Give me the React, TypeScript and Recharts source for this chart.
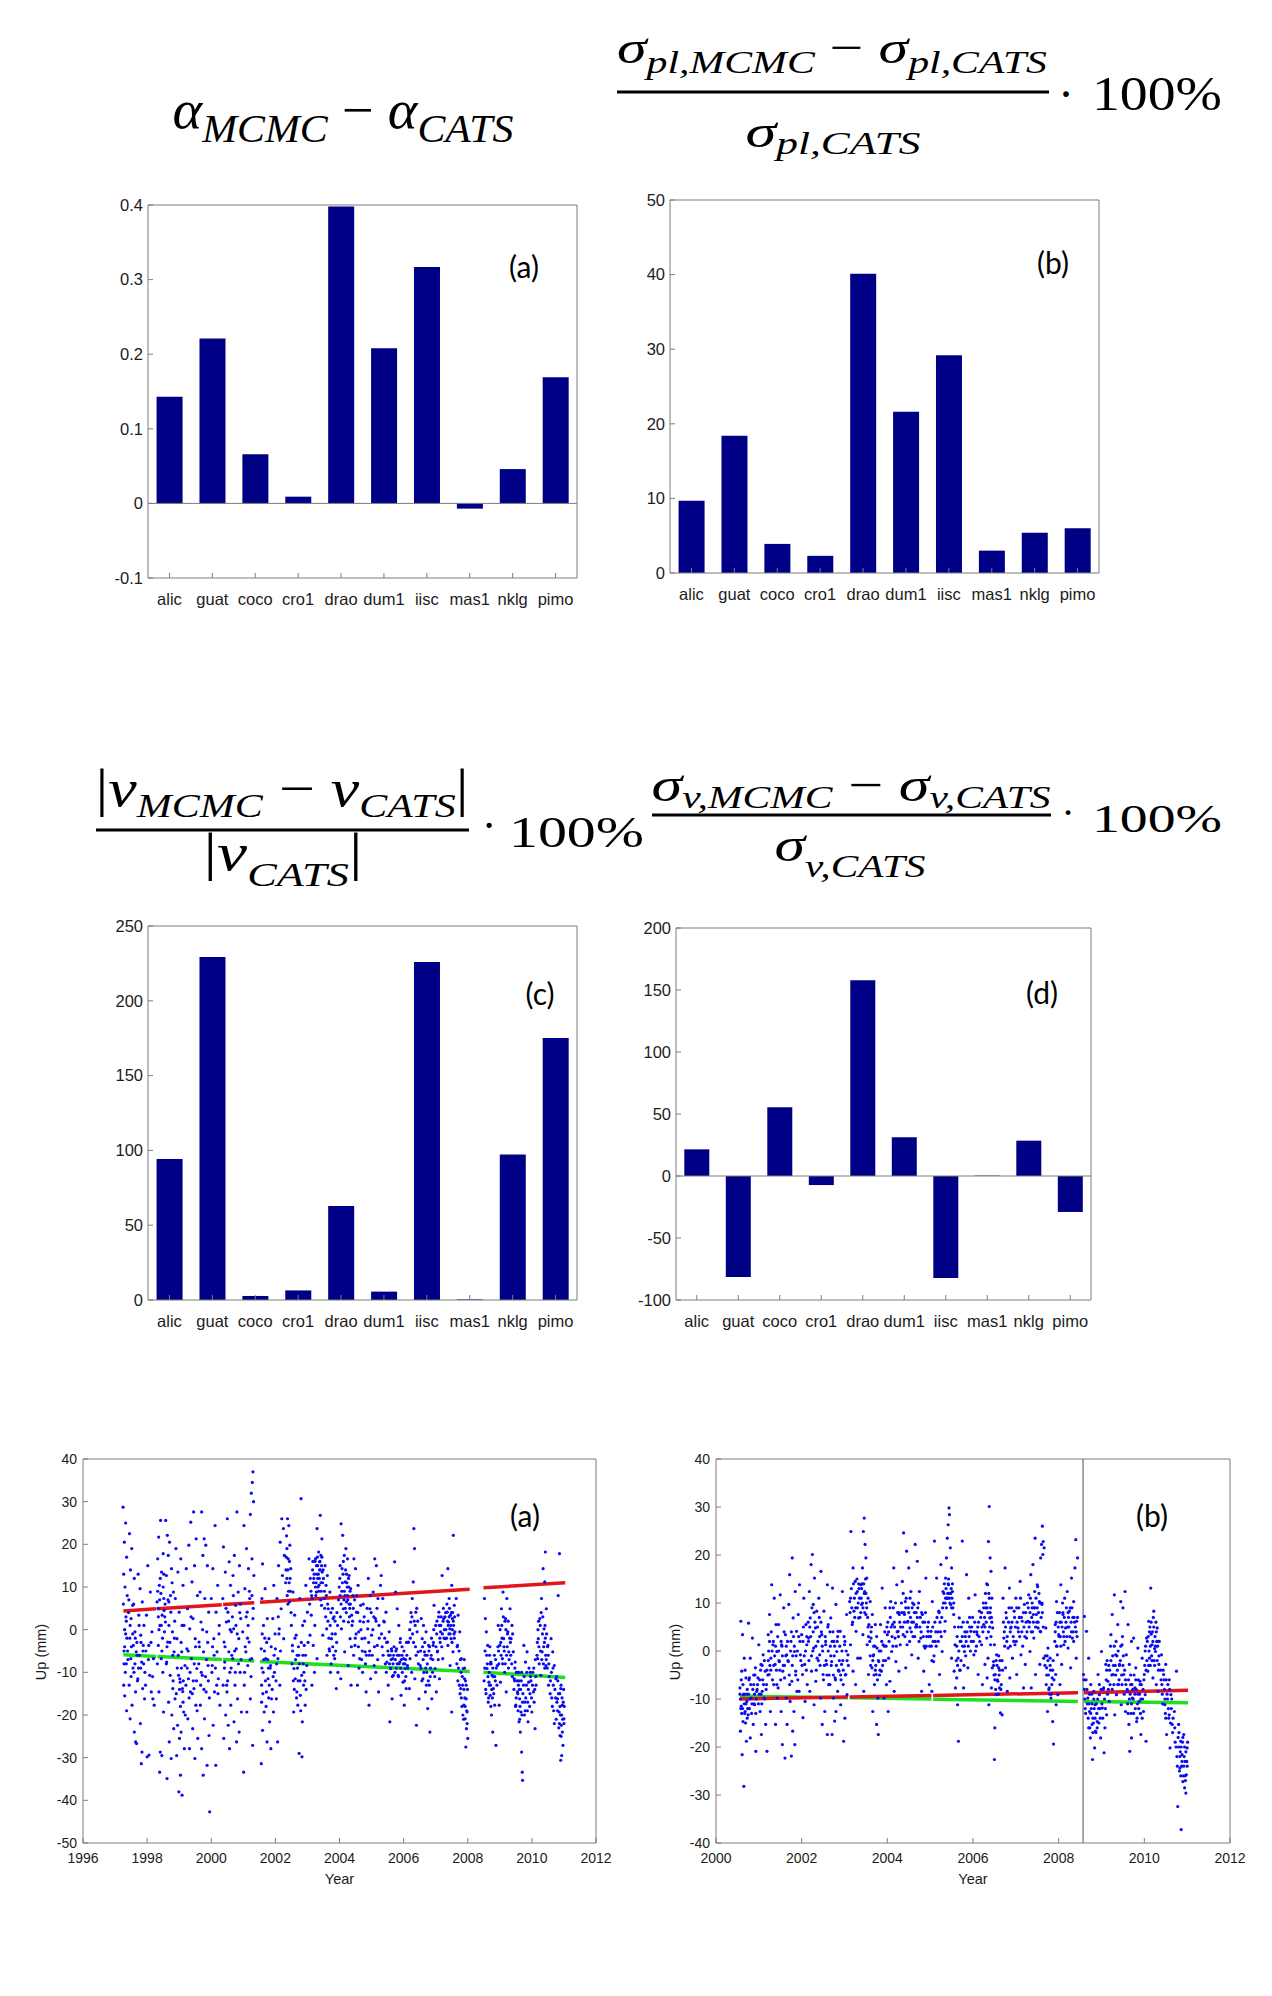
import React from 'react';
import { ComposedChart, Bar, Line, XAxis, YAxis, ReferenceLine, ScatterChart, Scatter } from 'recharts';

// --- bar panels -----------------------------------------------------------
const sites = ['alic', 'guat', 'coco', 'cro1', 'drao', 'dum1', 'iisc', 'mas1', 'nklg', 'pimo'];
const alphaDiff = [0.143, 0.221, 0.066, 0.009, 0.398, 0.208, 0.317, -0.007, 0.046, 0.169];
const sigmaPlDiff = [9.7, 18.4, 3.9, 2.3, 40.1, 21.6, 29.2, 3.0, 5.4, 6.0];
const velDiff = [94.2, 229.3, 2.7, 6.4, 62.9, 5.6, 226.0, 0.4, 97.3, 175.1];
const sigmaVelDiff = [21.5, -81.5, 55.4, -7.3, 157.8, 31.2, -82.3, 0.3, 28.5, -29.0];

const ticksAlpha = [-0.1, 0, 0.1, 0.2, 0.3, 0.4];
const ticksSigmaPl = [0, 10, 20, 30, 40, 50];
const ticksVel = [0, 50, 100, 150, 200, 250];
const ticksSigmaVel = [-100, -50, 0, 50, 100, 150, 200];

// --- GPS up component time series (year, mm) -------------------------------
const upA_1997 = [
  [1997.25, 28.7], [1997.33, 25], [1997.29, 20.5], [1997.36, 17], [1997.27, 13], [1997.31, 10], [1997.38, 8], [1997.26, 6],
  [1997.34, 3], [1997.3, 0], [1997.37, -2], [1997.28, -5], [1997.35, -8], [1997.32, -10], [1997.27, -13], [1997.3, -15.5],
  [1997.36, -19], [1997.45, 22.5], [1997.52, 19], [1997.48, 14], [1997.6, 12], [1997.43, 7], [1997.55, 5.7], [1997.5, 2.6],
  [1997.62, -0.5], [1997.46, -2], [1997.57, -3.7], [1997.66, -5.2], [1997.49, -6.8], [1997.59, -10], [1997.44, -13],
  [1997.64, -14.6], [1997.53, -17.7], [1997.47, -20.9], [1997.6, -24], [1997.64, -26.3], [1997.67, -26.7], [1997.72, 13],
  [1997.78, 9.6], [1997.85, 6.5], [1997.74, 3.4], [1997.9, 1], [1997.8, -1.3], [1997.88, -3.7], [1997.76, -6], [1997.83, -7.6],
  [1997.93, -10], [1997.71, -11.5], [1997.86, -13.8], [1997.92, -16.2], [1997.79, -22], [1997.84, -28.7], [1997.82, -31.4],
  [1998.02, 15], [1998.1, 8.8], [1997.98, 3.4], [1998.15, -0.5], [1998.05, -3.7], [1998.2, -6.8], [1998.08, -10.7],
  [1998.13, -14.6], [1998.18, -16.2], [1998.22, -17.7], [1998.0, -29.8], [1998.06, -29.4],
  [1998.42, 25.6], [1998.36, 21.7], [1998.5, 17.8], [1998.33, 16.6], [1998.45, 13.5], [1998.38, 10.4], [1998.52, 7.3],
  [1998.31, 6.5], [1998.47, 3.4], [1998.4, 1], [1998.54, -0.5], [1998.35, -3.7], [1998.44, -6.8], [1998.49, -10],
  [1998.37, -14.6], [1998.51, -19.3], [1998.41, -28.7], [1998.46, -29.5], [1998.39, -33.4], [1998.34, 5], [1998.43, 8.5],
  [1998.48, -2], [1998.53, 4.5], [1998.32, -8],
  [1998.58, 25.6], [1998.63, 22.1], [1998.7, 20.5], [1998.66, 17.4], [1998.76, 14.3], [1998.6, 12.7], [1998.82, 8.8],
  [1998.68, 6.5], [1998.74, 4.1], [1998.57, 1.8], [1998.79, -0.5], [1998.64, -2.9], [1998.84, -5.2], [1998.61, -7.6],
  [1998.72, -10.7], [1998.8, -13.8], [1998.67, -17], [1998.77, -20], [1998.83, -23.2], [1998.69, -26.3], [1998.75, -30.2],
  [1998.62, -34.9],
];

const upA_1999 = [
  [1998.9, 19], [1999.05, 16.6], [1998.96, 13.5], [1999.12, 10.4], [1998.88, 7.3], [1999.0, 4.1], [1999.15, 1],
  [1998.93, -2.1], [1999.08, -5.2], [1999.18, -8.4], [1998.98, -10.7], [1999.03, -12.3], [1999.1, -13.8], [1998.87, -16.2],
  [1999.14, -19.3], [1998.95, -22.4], [1999.06, -24], [1999.01, -25.5], [1999.16, -27.9], [1998.92, -29.5], [1999.04, -34.1],
  [1999.09, -38.8], [1998.99, -38], [1999.02, -11.5], [1999.11, -14.5], [1999.07, -9],
  [1999.45, 27.6], [1999.36, 25.2], [1999.53, 21.3], [1999.3, 19.8], [1999.48, 15], [1999.22, 14.3], [1999.4, 11.2],
  [1999.57, 8], [1999.26, 4.9], [1999.43, 2.6], [1999.33, 0.2], [1999.5, -2.1], [1999.24, -4.5], [1999.38, -6.8],
  [1999.55, -9.1], [1999.29, -11.5], [1999.46, -13.8], [1999.35, -14.6], [1999.52, -17.7], [1999.27, -20.9], [1999.42, -23.2],
  [1999.58, -25.5], [1999.32, -27.9], [1999.49, -30.2],
  [1999.7, 27.6], [1999.78, 21.3], [1999.83, 19.8], [1999.74, 17.4], [1999.88, 15], [1999.65, 8.8], [1999.8, 7.3],
  [1999.92, 4.1], [1999.68, 1.8], [1999.86, -0.5], [1999.62, -2.9], [1999.76, -5.2], [1999.9, -8.4], [1999.72, -10.7],
  [1999.84, -14.6], [1999.66, -17.7], [1999.79, -20.9], [1999.93, -24.8], [1999.7, -27.9], [1999.87, -31.8], [1999.75, -34.1],
  [1999.95, -42.7],
  [2000.12, 24.4], [2000.05, 14.3], [2000.2, 10.4], [2000.0, 7.3], [2000.15, 4.1], [2000.25, 1], [2000.08, -2.1],
  [2000.18, -5.2], [2000.03, -8.4], [2000.22, -11.5], [2000.1, -14.6], [2000.27, -17.7], [2000.06, -22.4], [2000.14, -31.8],
];

const upA_2000 = [
  [2000.5, 26], [2000.38, 19.4], [2000.56, 15.9], [2000.44, 13.5], [2000.6, 10.4], [2000.36, 7.3], [2000.52, 4.1],
  [2000.47, 1.8], [2000.63, -0.5], [2000.4, -2.9], [2000.55, -5.2], [2000.42, -7.6], [2000.58, -10], [2000.37, -13],
  [2000.49, -14.6], [2000.61, -17.7], [2000.45, -20], [2000.53, -22.4], [2000.39, -25.5], [2000.57, -27.9],
  [2000.8, 27.6], [2000.72, 17.4], [2000.88, 15], [2000.68, 12.7], [2000.84, 8.8], [2000.76, 5.7], [2000.92, 2.6],
  [2000.7, 0.2], [2000.86, -2.1], [2000.78, -4.5], [2000.67, -6.8], [2000.9, -10], [2000.74, -13], [2000.82, -16.2],
  [2000.94, -19.3], [2000.71, -21.6], [2000.87, -24], [2000.79, -26.3],
  [2001.3, 37], [2001.28, 34.5], [2001.25, 32], [2001.32, 30], [2001.22, 27], [2001.02, 24.4], [2001.1, 19],
  [2001.27, 16.6], [2001.16, 14.3], [2001.33, 12.7], [2001.05, 9.6], [2001.2, 7.3], [2001.12, 4.1], [2001.3, 2.6],
  [2000.98, -0.5], [2001.18, -2.9], [2001.08, -5.2], [2001.26, -6.8], [2001.14, -8.4], [2001.03, -13], [2001.22, -16.2],
  [2001.11, -19.3], [2001.29, -27.1], [2001.01, -33.4],
];

const upA_2001 = [
  [2001.6, 15.4], [2001.68, 9.6], [2001.58, 7.3], [2001.75, 2.6], [2001.63, 1], [2001.8, -2.1], [2001.56, -4.5],
  [2001.7, -6.8], [2001.85, -8.4], [2001.62, -10], [2001.77, -11.5], [2001.57, -13], [2001.72, -14.6], [2001.88, -16.2],
  [2001.65, -19.3], [2001.82, -21.6], [2001.6, -23.6], [2001.74, -26.3], [2001.86, -27.9], [2001.56, -31.4],
  [2001.66, -5], [2001.78, -9], [2001.59, -1],
  [2002.2, 26], [2002.25, 23.7], [2002.15, 20.5], [2002.28, 17.4], [2002.1, 15], [2002.22, 12.7], [2001.95, 10.4],
  [2002.05, 7.3], [2002.18, 4.9], [2001.92, 2.6], [2002.12, 0.2], [2002.26, -2.1], [2002.0, -4.5], [2002.08, -6.8],
  [2001.97, -10], [2002.14, -13], [2002.03, -16.2], [2001.94, -19.3], [2002.07, -26.3],
  [2002.38, 26], [2002.42, 24.4], [2002.35, 22], [2002.45, 19.8], [2002.4, 16.6], [2002.48, 14.3], [2002.36, 12],
  [2002.55, 8.8], [2002.44, 6.5], [2002.6, 3.4], [2002.5, 1], [2002.65, -1.3], [2002.53, -3.7], [2002.68, -6],
  [2002.58, -9.1], [2002.62, -11.5], [2002.67, -14.6], [2002.7, -17.7], [2002.57, -19.3], [2002.39, 14], [2002.43, 11],
  [2002.41, 9],
  [2002.8, 30.7], [2003.05, 16.6], [2002.95, 10.4], [2002.76, 7.3], [2003.0, 4.1], [2002.85, 1], [2003.08, -1.3],
  [2002.9, -3.7], [2002.73, -6], [2002.98, -8.4], [2002.82, -10.7], [2002.88, -13], [2002.78, -15.4], [2002.93, -17.7],
  [2002.84, -21.6], [2002.74, -29], [2002.83, -29.8], [2002.79, -19], [2002.87, -8], [2002.92, -12],
];

const upA_2003 = [
  [2003.4, 26.8], [2003.3, 23.7], [2003.45, 21.3], [2003.35, 18.2], [2003.42, 17.4], [2003.25, 16.6], [2003.38, 15.9],
  [2003.32, 15], [2003.46, 13.5], [2003.2, 12], [2003.36, 10.4], [2003.28, 8.8], [2003.15, 7.3], [2003.44, 5.7],
  [2003.12, 3.4], [2003.23, 1], [2003.48, -1.3], [2003.18, -3.7], [2003.3, -6.8], [2003.22, -10], [2003.14, -13],
  [2003.34, 13], [2003.4, 14], [2003.27, 11], [2003.43, 9],
  [2003.55, 15], [2003.62, 12.7], [2003.58, 10.4], [2003.7, 8.8], [2003.52, 7.3], [2003.65, 4.9], [2003.8, 2.6],
  [2003.6, 0.2], [2003.75, -2.1], [2003.68, -4.5], [2003.85, -6.8], [2003.72, -10], [2003.9, -13.8], [2003.78, 5],
  [2003.95, -10], [2003.88, -5],
  [2004.05, 24.8], [2004.1, 22.1], [2004.2, 19], [2004.15, 17.4], [2004.25, 16.6], [2004.08, 14.3], [2004.3, 12.7],
  [2004.18, 11.2], [2004.35, 9.6], [2004.02, 8], [2004.22, 6.5], [2004.12, 4.9], [2004.38, 3.4], [2004.28, 1.8],
  [2004.06, 0.2], [2004.33, -2.1], [2004.16, -5.2], [2004.27, -8.4], [2004.04, -11.5], [2004.36, -13], [2004.24, 10],
  [2004.14, 7], [2004.32, 5],
  [2004.45, 16.6], [2004.5, 14.3], [2004.58, 10.4], [2004.42, 8], [2004.66, 5.7], [2004.53, 4.1], [2004.75, 1.8],
  [2004.6, -0.5], [2004.7, -2.1], [2004.48, -3.7], [2004.8, -5.2], [2004.63, -6.8], [2004.72, -10], [2004.56, -13],
  [2004.83, -14.6],
];

const upA_2005 = [
  [2005.1, 16.6], [2005.15, 15], [2004.9, 12], [2005.05, 8.8], [2005.2, 7.3], [2004.95, 4.9], [2005.12, 2.6],
  [2004.88, 0.2], [2005.0, -1.3], [2005.18, -3.7], [2004.93, -6], [2005.08, -8.4], [2004.97, -11.5], [2005.22, -14.6],
  [2004.92, -17.7],
  [2005.3, 12.7], [2005.28, 10.4], [2005.35, 7.3], [2005.45, 4.1], [2005.4, 1.8], [2005.55, -0.5], [2005.5, -2.9],
  [2005.62, -4.5], [2005.58, -6], [2005.66, -6.8], [2005.48, -7.6], [2005.6, -9.1], [2005.68, -10.7], [2005.52, -13],
  [2005.64, -16.2], [2005.57, -21.6],
  [2005.72, 15.9], [2005.75, 8.8], [2005.8, 4.9], [2005.85, 1], [2005.9, -2.1], [2005.78, -4.5], [2005.95, -6],
  [2006.0, -6.8], [2005.88, -7.6], [2006.05, -9.1], [2005.83, -10.7], [2005.98, -12.3], [2006.08, -13.8], [2005.92, -15.4],
  [2006.02, -17.7],
  [2006.32, 23.7], [2006.34, 19], [2006.3, 11.2], [2006.27, 7.3], [2006.38, 4.1], [2006.22, 1.8], [2006.42, -0.5],
  [2006.15, -2.9], [2006.45, -5.2], [2006.2, -6.8], [2006.12, -8.4], [2006.25, -10], [2006.35, -11.5], [2006.18, -13.8],
  [2006.48, -16.2], [2006.4, -22.4],
  [2006.55, 2.6], [2006.62, 1], [2006.7, -0.5], [2006.58, -2.1], [2006.78, -3.7], [2006.65, -5.2], [2006.85, -6.8],
  [2006.52, -8.4], [2006.72, -10], [2006.6, -11.5], [2006.8, -13], [2006.68, -14.6], [2006.88, -16.2], [2006.75, -18.5],
  [2006.82, -24],
];

const upA_2007 = [
  [2007.2, 12.7], [2006.95, 5.7], [2007.1, 4.1], [2007.25, 2.6], [2007.0, 1], [2007.15, -0.5], [2007.3, -2.1],
  [2006.92, -3.7], [2007.05, -5.2], [2007.22, -6.8], [2006.98, -9.1], [2007.12, -11.5], [2007.02, -14.6],
  [2007.55, 22.1], [2007.38, 14.3], [2007.5, 10.4], [2007.42, 7.3], [2007.58, 5.7], [2007.36, 4.1], [2007.46, 3.4],
  [2007.52, 2.6], [2007.4, 1.8], [2007.56, 1], [2007.44, 0.2], [2007.6, -0.5], [2007.48, -2.1], [2007.38, -3.7],
  [2007.54, -5.2], [2007.45, -8.4], [2007.5, -19.3],
  [2007.64, 7.3], [2007.7, 3.4], [2007.75, -0.5], [2007.68, -3.7], [2007.8, -6.8], [2007.86, -9.1], [2007.9, -11.5],
  [2007.78, -13.8], [2007.95, -16.2], [2007.88, -17.7], [2007.98, -19.3], [2007.92, -20.9], [2007.96, -23.2],
  [2008.0, -25.5], [2007.94, -27.5],
];

const upA_2008 = [
  [2008.52, 7.3], [2008.55, 2.6], [2008.58, -0.5], [2008.62, -3.7], [2008.68, -6], [2008.72, -7.6], [2008.6, -9.1],
  [2008.76, -10.7], [2008.66, -12.3], [2008.8, -13.8], [2008.7, -15.4], [2008.84, -17.7], [2008.74, -20], [2008.78, -24],
  [2008.88, -27.1],
  [2009.1, 8.8], [2009.22, 7.3], [2009.05, 4.9], [2009.18, 2.6], [2008.95, 1], [2009.25, -0.5], [2009.12, -2.1],
  [2009.0, -3.7], [2009.28, -5.2], [2009.08, -6.8], [2008.92, -8.4], [2009.15, -10], [2009.02, -12.3], [2009.2, -14.6],
  [2008.98, -17.7],
  [2009.32, 4.9], [2009.38, 1], [2009.35, -2.1], [2009.42, -5.2], [2009.48, -7.6], [2009.52, -10], [2009.45, -11.5],
  [2009.58, -13], [2009.55, -14.6], [2009.62, -16.2], [2009.5, -17.7], [2009.66, -19.3], [2009.6, -21.6], [2009.64, -24],
  [2009.68, -28.7], [2009.7, -33.4], [2009.71, -35.3],
  [2009.75, -3.7], [2009.85, -5.2], [2009.8, -7.6], [2009.95, -10], [2009.9, -12.3], [2010.05, -14.6], [2009.78, -17],
  [2010.0, -19.3], [2009.88, -21.6], [2010.1, -23.2],
  [2010.42, 18.2], [2010.35, 14.3], [2010.4, 11.2], [2010.3, 7.3], [2010.45, 4.9], [2010.25, 2.6], [2010.38, 0.2],
  [2010.2, -2.1], [2010.5, -3.7], [2010.32, -5.2], [2010.18, -6.8], [2010.44, -8.4], [2010.28, -10.7], [2010.52, -13],
  [2010.86, 17.8], [2010.82, 8], [2010.6, -2.1], [2010.65, -5.2], [2010.7, -8.4], [2010.75, -11.5], [2010.9, -13.8],
  [2010.8, -16.2], [2010.95, -17.7], [2010.85, -19.3], [2011.0, -20.9], [2010.92, -22.4], [2010.88, -24.8],
  [2010.97, -27.1], [2010.93, -29.5], [2010.9, -30.6],
];

// denser cores of the station A clouds
const upA_core = [
  [1997.3, -4], [1997.35, 2], [1997.4, -7], [1997.42, 4], [1997.5, -11], [1997.55, -1], [1997.58, 6], [1997.62, -8],
  [1997.68, -3], [1997.7, -12], [1997.75, 1], [1997.8, -9], [1997.87, -5], [1997.95, -13], [1998.04, -7], [1998.12, -3],
  [1998.17, -11], [1998.33, 9], [1998.37, 0], [1998.41, 12], [1998.46, -5], [1998.5, 10], [1998.55, 3], [1998.6, -8],
  [1998.65, 7], [1998.71, -3], [1998.78, 11], [1998.81, -12], [1998.86, 2], [1998.91, -15], [1998.97, -6], [1999.04, -18],
  [1999.09, 1], [1999.13, -12], [1999.19, -20], [1999.25, -9], [1999.31, -16], [1999.37, 3], [1999.44, -12], [1999.51, -4],
  [1999.56, -19], [1999.61, -8], [1999.67, -13], [1999.73, 0], [1999.82, -11], [1999.89, -3], [1999.94, -16], [2000.02, -10],
  [2000.09, -6], [2000.17, -13], [2000.24, -1], [2000.41, -9], [2000.46, 5], [2000.51, -12], [2000.59, 0], [2000.64, -6],
  [2000.69, 8], [2000.75, -10], [2000.81, -1], [2000.89, 4], [2000.93, -7], [2001.04, -10], [2001.09, 3], [2001.13, -2],
  [2001.19, 9], [2001.24, -11], [2001.31, 5], [2001.58, -9], [2001.61, -15], [2001.67, -2], [2001.71, -18], [2001.76, -7],
  [2001.81, -13], [2001.87, -4], [2001.93, -11], [2001.99, -1], [2002.04, -8], [2002.09, 3], [2002.16, -5], [2002.32, 11],
  [2002.34, 17], [2002.37, 8], [2002.46, 12], [2002.49, 4], [2002.52, -8], [2002.56, -12], [2002.61, -2], [2002.66, -16],
  [2002.69, -9], [2002.72, -4], [2002.77, -12], [2002.86, -6], [2002.91, 2], [2002.96, -14], [2003.02, -3], [2003.07, 6],
  [2003.11, 9], [2003.16, 14], [2003.19, 11], [2003.24, 16], [2003.26, 8], [2003.29, 13], [2003.31, 17], [2003.33, 10],
  [2003.37, 12], [2003.39, 16], [2003.41, 7], [2003.44, 15], [2003.47, 11], [2003.49, 14], [2003.53, 9], [2003.57, 3],
  [2003.61, -6], [2003.63, 6], [2003.67, -2], [2003.71, 1], [2003.74, -8], [2003.79, -4], [2003.83, 3], [2003.87, -1],
  [2003.92, 4], [2003.97, 7], [2004.01, 12], [2004.03, 3], [2004.07, 9], [2004.11, 13], [2004.13, 2], [2004.17, 8],
  [2004.19, 14], [2004.21, 4], [2004.23, 11], [2004.26, 7], [2004.29, 10], [2004.31, 3], [2004.34, 6], [2004.37, -4],
  [2004.41, 2], [2004.44, -6], [2004.47, 7], [2004.52, -1], [2004.57, 4], [2004.61, -9], [2004.67, 0], [2004.71, -5],
  [2004.77, 3], [2004.81, -8], [2004.86, 5], [2004.91, -3], [2004.96, 8], [2005.02, -6], [2005.07, 3], [2005.13, -10],
  [2005.17, 5], [2005.24, -2], [2005.33, -4], [2005.38, 2], [2005.43, -8], [2005.47, -3], [2005.53, -6], [2005.59, -9],
  [2005.63, -5], [2005.67, -8], [2005.7, -4], [2005.74, -7], [2005.77, -9], [2005.81, -6], [2005.86, -8], [2005.89, -3],
  [2005.93, -7], [2005.96, -10], [2006.01, -5], [2006.04, -8], [2006.07, -11], [2006.1, -6], [2006.14, -3], [2006.19, 0],
  [2006.23, 4], [2006.28, -1], [2006.33, 2], [2006.37, -4], [2006.41, 5], [2006.46, -8], [2006.53, -5], [2006.57, -12],
  [2006.61, -7], [2006.66, -3], [2006.69, -9], [2006.73, -6], [2006.77, -12], [2006.81, -4], [2006.84, -9], [2006.87, -2],
  [2006.91, -7], [2006.94, 0], [2006.97, -11], [2007.01, -4], [2007.04, 2], [2007.08, -7], [2007.11, 1], [2007.14, -3],
  [2007.17, 3], [2007.21, -1], [2007.24, 5], [2007.27, 0], [2007.31, 4], [2007.34, -2], [2007.37, 2], [2007.41, -1],
  [2007.43, 5], [2007.47, 1], [2007.51, -3], [2007.53, 4], [2007.57, -1], [2007.59, 3], [2007.66, -8], [2007.69, -12],
  [2007.73, -5], [2007.76, -15], [2007.79, -10], [2007.82, -18], [2007.84, -13], [2007.87, -21], [2007.89, -7],
  [2007.91, -16], [2007.93, -12], [2007.97, -19], [2007.99, -14], [2008.51, -12], [2008.54, -5], [2008.57, -15],
  [2008.61, -8], [2008.64, -17], [2008.67, -10], [2008.69, -4], [2008.71, -13], [2008.73, -8], [2008.77, -16],
  [2008.79, -11], [2008.83, -6], [2008.86, -12], [2008.89, -9], [2008.94, -4], [2008.97, -8], [2009.01, 0], [2009.04, -6],
  [2009.07, -2], [2009.11, 3], [2009.14, -5], [2009.17, -8], [2009.19, 0], [2009.23, -4], [2009.26, 2], [2009.29, -7],
  [2009.33, -3], [2009.37, -8], [2009.4, -1], [2009.44, -14], [2009.47, -9], [2009.51, -16], [2009.54, -12], [2009.57, -19],
  [2009.59, -10], [2009.61, -14], [2009.63, -18], [2009.67, -12], [2009.69, -20], [2009.72, -15], [2009.76, -11],
  [2009.79, -19], [2009.83, -13], [2009.87, -17], [2009.91, -9], [2009.94, -15], [2009.97, -12], [2010.03, -10],
  [2010.07, -17], [2010.11, -7], [2010.13, -13], [2010.17, -3], [2010.21, 2], [2010.23, -8], [2010.27, -5], [2010.29, 4],
  [2010.33, -1], [2010.36, -8], [2010.39, -3], [2010.41, 1], [2010.43, -6], [2010.46, -1], [2010.48, -9], [2010.51, -6],
  [2010.54, -11], [2010.58, -12], [2010.62, -16], [2010.66, -9], [2010.68, -19], [2010.72, -14], [2010.76, -21],
  [2010.78, -17], [2010.81, -12], [2010.84, -23], [2010.87, -15], [2010.89, -20], [2010.91, -25], [2010.94, -16],
  [2010.96, -21], [2010.99, -14], [2011.01, -18],
];

const upA_core2 = [
  [1997.28, -8], [1997.33, -1], [1997.39, -5], [1997.47, 1], [1997.51, -4], [1997.56, -9], [1997.63, -2], [1997.69, -6],
  [1997.73, -9], [1997.81, -3], [1997.89, -8], [1997.96, -5], [1998.35, 3], [1998.39, 7], [1998.44, 1], [1998.52, 13],
  [1998.56, 6], [1998.62, -4], [1998.68, 1], [1998.73, 8], [1998.8, -6], [1998.85, -2], [1998.94, -9], [1999.01, -14],
  [1999.06, -3], [1999.12, -17], [1999.21, -13], [1999.28, -5], [1999.34, -10], [1999.41, -15], [1999.47, -8],
  [1999.54, -12], [1999.63, -4], [1999.69, -10], [1999.77, -14], [1999.85, -7], [1999.91, -12], [2000.04, -4],
  [2000.13, -9], [2000.21, -15], [2000.43, -4], [2000.48, -13], [2000.54, 2], [2000.62, -9], [2000.66, 3], [2000.73, -5],
  [2000.77, 1], [2000.85, -8], [2000.91, 6], [2001.06, -4], [2001.15, 1], [2001.21, -7], [2001.27, 8], [2001.57, -17],
  [2001.64, -7], [2001.69, -12], [2001.73, -3], [2001.79, -16], [2001.84, -9], [2001.9, -14], [2001.96, -6], [2002.02, -12],
  [2002.11, -1], [2002.33, 14], [2002.36, 19], [2002.39, 6], [2002.44, 16], [2002.47, 9], [2002.54, -5], [2002.59, -14],
  [2002.63, -7], [2002.71, -12], [2002.75, -8], [2002.81, -3], [2002.89, -10], [2002.94, -6], [2003.09, 12], [2003.13, 8],
  [2003.17, 16], [2003.21, 13], [2003.25, 10], [2003.28, 15], [2003.32, 12], [2003.35, 9], [2003.38, 14], [2003.42, 11],
  [2003.45, 17], [2003.5, 12], [2003.54, 5], [2003.59, 8], [2003.64, 2], [2003.69, -5], [2003.73, 4], [2003.77, -1],
  [2003.82, -6], [2003.86, 2], [2003.91, -3], [2003.94, 1], [2003.99, 10], [2004.02, 15], [2004.05, 6], [2004.09, 11],
  [2004.12, 16], [2004.15, 9], [2004.18, 5], [2004.22, 13], [2004.25, 8], [2004.28, 12], [2004.3, 6], [2004.33, 9],
  [2004.39, 1], [2004.43, 5], [2004.49, -2], [2004.54, 8], [2004.59, -4], [2004.64, 2], [2004.69, -7], [2004.74, 6],
  [2004.79, -2], [2004.84, -6], [2004.89, 2], [2004.94, -5], [2004.99, 4], [2005.04, 0], [2005.09, -4], [2005.14, 2],
  [2005.19, -7], [2005.23, 1], [2005.31, -1], [2005.36, -6], [2005.41, -2], [2005.46, -10], [2005.51, -5], [2005.56, -8],
  [2005.61, -7], [2005.65, -11], [2005.69, -6], [2005.73, -10], [2005.76, -5], [2005.8, -8], [2005.84, -11], [2005.87, -6],
  [2005.91, -9], [2005.95, -4], [2005.99, -8], [2006.03, -12], [2006.06, -7], [2006.09, -3], [2006.13, -9], [2006.21, -2],
  [2006.26, 3], [2006.31, -3], [2006.36, 1], [2006.39, -6], [2006.44, 2], [2006.54, -9], [2006.59, -4], [2006.63, -10],
  [2006.67, -6], [2006.71, -13], [2006.74, -8], [2006.79, -5], [2006.83, -11], [2006.86, -6], [2006.9, -10], [2006.93, -3],
  [2007.03, -1], [2007.06, -5], [2007.09, 3], [2007.13, -2], [2007.16, 1], [2007.19, -4], [2007.23, 2], [2007.26, -2],
  [2007.29, 3], [2007.32, 0], [2007.35, 6], [2007.39, 1], [2007.42, 3], [2007.45, -1], [2007.49, 4], [2007.52, 0],
  [2007.55, 2], [2007.58, -2], [2007.67, -4], [2007.71, -9], [2007.74, -13], [2007.77, -7], [2007.8, -16], [2007.83, -11],
  [2007.85, -20], [2007.88, -14], [2007.9, -9], [2007.92, -18], [2007.95, -13], [2007.98, -22], [2008.53, -9],
  [2008.56, -14], [2008.59, -6], [2008.63, -11], [2008.65, -16], [2008.68, -13], [2008.7, -8], [2008.72, -18],
  [2008.75, -14], [2008.78, -9], [2008.81, -15], [2008.84, -11], [2008.87, -7], [2008.91, -13], [2008.96, -5], [2009.03, -3],
  [2009.06, 1], [2009.09, -8], [2009.13, -4], [2009.16, 2], [2009.21, -6], [2009.24, -1], [2009.27, -9], [2009.31, -2],
  [2009.34, -6], [2009.39, -11], [2009.46, -12], [2009.49, -18], [2009.53, -10], [2009.56, -15], [2009.6, -12],
  [2009.62, -21], [2009.65, -14], [2009.68, -10], [2009.71, -17], [2009.74, -13], [2009.77, -20], [2009.81, -16],
  [2009.84, -10], [2009.86, -19], [2009.89, -14], [2009.93, -18], [2009.96, -11], [2009.99, -16], [2010.02, -13],
  [2010.06, -9], [2010.09, -14], [2010.12, -11], [2010.16, -6], [2010.19, 0], [2010.22, -4], [2010.26, 1], [2010.31, -7],
  [2010.34, 3], [2010.37, -4], [2010.4, -9], [2010.42, -2], [2010.45, -7], [2010.49, -4], [2010.53, -8], [2010.57, -15],
  [2010.61, -10], [2010.64, -18], [2010.67, -13], [2010.7, -22], [2010.74, -16], [2010.77, -11], [2010.8, -19],
  [2010.83, -15], [2010.86, -22], [2010.88, -18], [2010.91, -13], [2010.93, -20], [2010.95, -24], [2010.98, -17],
  [2011.0, -22],
];

const upB_2000 = [
  [2000.58, 6.2], [2000.62, 3.4], [2000.66, -1.5], [2000.6, -4.2], [2000.7, -5.6], [2000.56, -7.7], [2000.64, -9.1],
  [2000.72, -10.5], [2000.59, -11.5], [2000.68, -12.6], [2000.63, -14.7], [2000.57, -16.7], [2000.71, -18.8],
  [2000.61, -21.6], [2000.65, -28.2], [2000.67, -13], [2000.58, -12], [2000.73, -8],
  [2000.76, 5.8], [2000.85, 2.7], [2000.8, -1.5], [2000.92, -3.5], [2000.78, -5.6], [2000.88, -7], [2000.95, -8.4],
  [2000.82, -9.8], [2000.9, -11.2], [2000.75, -13.3], [2000.87, -15.3], [2000.8, -18.1], [2000.93, -20.9],
  [2001.0, 1.3], [2001.1, -0.8], [2001.05, -2.8], [2001.15, -4.2], [2000.98, -5.6], [2001.18, -7], [2001.08, -8.4],
  [2001.12, -9.8], [2001.03, -12.6], [2001.16, -15.3], [2001.06, -17.4], [2001.19, -20.9],
  [2001.3, 13.8], [2001.36, 11], [2001.25, 7.6], [2001.4, 5.5], [2001.22, 3.4], [2001.33, 1.3], [2001.42, -0.1],
  [2001.28, -1.5], [2001.38, -2.8], [2001.24, -4.9], [2001.35, -7], [2001.43, -9.8], [2001.27, -12.6], [2001.39, -15.3],
  [2001.5, 11.7], [2001.58, 9], [2001.46, 5.5], [2001.62, 3.4], [2001.53, 1.3], [2001.65, -0.8], [2001.48, -2.2],
  [2001.56, -4.2], [2001.6, -5.6], [2001.45, -7.7], [2001.64, -9.8], [2001.52, -12.6], [2001.66, -15.3], [2001.55, -19.5],
  [2001.61, -22.3],
  [2001.78, 19.4], [2001.72, 15.9], [2001.85, 12.4], [2001.7, 9.7], [2001.8, 6.9], [2001.88, 4.1], [2001.75, 2],
  [2001.83, -0.1], [2001.69, -2.2], [2001.86, -4.2], [2001.77, -6.3], [2001.89, -8.4], [2001.73, -10.5], [2001.82, -12.6],
  [2001.79, -16.7], [2001.84, -19.5], [2001.76, -21.9],
  [2001.95, 13.8], [2002.05, 11], [2001.92, 7.6], [2002.1, 5.5], [2002.0, 3.4], [2002.12, 1.3], [2001.97, -0.8],
  [2002.07, -2.8], [2002.02, -4.9], [2002.13, -7], [2001.94, -8.4], [2002.08, -10.5], [2002.03, -13.9],
];

const upB_2002 = [
  [2002.25, 20.1], [2002.22, 18], [2002.3, 15.2], [2002.18, 12.4], [2002.27, 9.7], [2002.35, 8.3], [2002.2, 6.9],
  [2002.32, 4.8], [2002.16, 2.7], [2002.28, 0.6], [2002.36, -1.5], [2002.23, -4.2], [2002.33, -6.3], [2002.19, -8.4],
  [2002.29, -11.2],
  [2002.45, 16.6], [2002.6, 13.8], [2002.4, 11], [2002.52, 8.3], [2002.62, 5.5], [2002.47, 3.4], [2002.56, 1.3],
  [2002.42, -0.8], [2002.58, -2.8], [2002.5, -4.9], [2002.63, -7], [2002.44, -9.8], [2002.54, -12.6], [2002.48, -15.3],
  [2002.6, -17.4],
  [2002.72, 13.1], [2002.8, 9.7], [2002.68, 6.9], [2002.85, 4.1], [2002.75, 2], [2002.82, -0.1], [2002.7, -2.2],
  [2002.87, -4.2], [2002.78, -5.6], [2002.66, -7], [2002.84, -8.4], [2002.74, -9.8], [2002.8, -12.6], [2002.77, -14.6],
  [2002.71, -17.4],
  [2002.95, 12.4], [2003.05, 7.6], [2002.9, 4.1], [2003.0, 1.3], [2003.08, -0.8], [2002.93, -2.8], [2003.03, -4.9],
  [2002.97, -7], [2003.06, -9.1], [2002.91, -11.2], [2003.01, -14], [2002.98, -18.8],
  [2003.15, 24.9], [2003.2, 17.3], [2003.25, 14.5], [2003.3, 12.4], [2003.12, 10.3], [2003.22, 8.3], [2003.33, 6.9],
  [2003.18, 5.5], [2003.27, 4.1], [2003.14, 1.3], [2003.31, -1.5], [2003.2, -4.2], [2003.26, -7],
  [2003.46, 27.7], [2003.44, 24.9], [2003.48, 22.2], [2003.5, 19.4], [2003.42, 17.3], [2003.52, 15.2], [2003.38, 13.8],
  [2003.47, 12.4], [2003.55, 11], [2003.4, 9.7], [2003.5, 7.6], [2003.57, 5.5], [2003.43, 3.4], [2003.53, 1.3],
  [2003.37, -1.5], [2003.56, -4.9], [2003.45, -8.4],
  [2003.6, 10.3], [2003.65, 7.6], [2003.72, 5.5], [2003.62, 2.7], [2003.76, 0.6], [2003.68, -0.8], [2003.8, -2.2],
  [2003.64, -3.5], [2003.74, -4.9], [2003.7, -7], [2003.78, -9.8], [2003.66, -12.6], [2003.75, -15.3], [2003.79, -17.4],
  [2003.88, 13.1], [2003.95, 9], [2003.84, 5.5], [2004.0, 3.4], [2003.9, 1.3], [2004.03, -1.5], [2003.86, -4.2],
  [2003.98, -7], [2003.92, -9.8], [2004.02, -12.6],
];

const upB_2004 = [
  [2004.15, 17.3], [2004.22, 13.8], [2004.08, 10.3], [2004.28, 7.6], [2004.12, 5.5], [2004.25, 4.1], [2004.18, 2.7],
  [2004.3, 1.3], [2004.1, -0.1], [2004.2, -2.2], [2004.27, -4.2], [2004.06, -6.3], [2004.16, -8.4],
  [2004.38, 24.6], [2004.45, 20.8], [2004.5, 17.3], [2004.35, 14.5], [2004.55, 12.4], [2004.42, 10.3], [2004.58, 9],
  [2004.4, 7.6], [2004.48, 6.2], [2004.53, 4.8], [2004.37, 3.4], [2004.46, 1.3], [2004.57, -0.8], [2004.43, -3.5],
  [2004.65, 22.2], [2004.7, 18.7], [2004.9, 15.2], [2004.75, 12.4], [2004.62, 9.7], [2004.82, 7.6], [2004.68, 5.5],
  [2004.95, 4.1], [2004.78, 2.7], [2004.88, 0.6], [2004.72, -1.5], [2004.85, -4.2], [2004.98, -7], [2004.8, -8.4],
  [2005.1, 22.9], [2005.25, 18], [2005.15, 15.2], [2005.3, 12.4], [2005.05, 10.3], [2005.2, 8.3], [2005.35, 6.2],
  [2005.02, 4.1], [2005.12, 2], [2005.28, -0.1], [2005.08, -2.2], [2005.22, -4.9], [2005.04, -8.4],
  [2005.44, 29.8], [2005.45, 28.4], [2005.42, 26.3], [2005.4, 23.5], [2005.47, 21.5], [2005.38, 19.4], [2005.5, 17.3],
  [2005.36, 15.2], [2005.43, 13.8], [2005.52, 12.4], [2005.41, 11], [2005.48, 9.7], [2005.55, 7.6], [2005.34, 4.1],
  [2005.58, 1.3], [2005.5, -1.5], [2005.56, -4.2], [2005.59, -7.7],
  [2005.75, 22.9], [2005.85, 15.9], [2005.9, 11], [2005.68, 6.9], [2005.95, 4.1], [2005.72, 2], [2005.8, -0.1],
  [2005.65, -1.5], [2005.88, -3.5], [2005.62, -5.6], [2005.78, -7.7], [2005.64, -11.2], [2005.66, -18.8], [2005.7, -4],
  [2005.82, 3], [2005.92, 7],
];

const upB_2006 = [
  [2006.05, 11.7], [2006.15, 8.3], [2006.25, 5.5], [2006.1, 3.4], [2006.2, 1.3], [2006.02, -0.8], [2006.28, -2.8],
  [2006.12, -4.9], [2006.22, -7],
  [2006.38, 30.1], [2006.36, 22.8], [2006.4, 19.4], [2006.42, 16.6], [2006.34, 13.8], [2006.44, 11], [2006.3, 9],
  [2006.39, 6.9], [2006.46, 4.8], [2006.32, 2.7], [2006.41, 1.3], [2006.35, -1.5], [2006.45, -3.5], [2006.33, -5.6],
  [2006.43, -7.7], [2006.37, -11.2],
  [2006.5, 1.3], [2006.55, -0.8], [2006.48, -2.2], [2006.6, -3.5], [2006.52, -4.9], [2006.58, -6.3], [2006.62, -7.7],
  [2006.54, -9.1], [2006.64, -12.9], [2006.68, -13.3], [2006.51, -16], [2006.5, -22.6],
  [2006.75, 17.3], [2006.85, 13.1], [2006.7, 11], [2006.9, 9], [2006.78, 6.9], [2006.88, 4.8], [2006.72, 2.7],
  [2006.82, 0.6], [2006.92, -1.5], [2006.76, -3.5], [2006.86, -5.6], [2006.8, -8.4],
  [2007.1, 14.5], [2007.0, 11], [2007.2, 9.7], [2006.96, 8.3], [2007.15, 6.2], [2007.05, 4.8], [2007.25, 2.7],
  [2006.98, 1.3], [2007.12, -0.8], [2007.22, -2.8], [2007.02, -4.9], [2007.18, -7.7],
  [2007.45, 23.5], [2007.6, 22.2], [2007.58, 19.4], [2007.4, 18], [2007.35, 15.9], [2007.5, 13.8], [2007.3, 11.7],
  [2007.55, 10.3], [2007.38, 9], [2007.48, 7.6], [2007.28, 6.2], [2007.52, 4.8], [2007.42, 2.7], [2007.33, -0.1],
  [2007.56, -2.8], [2007.46, -4.9], [2007.36, -7.7],
  [2007.62, 26], [2007.64, 22.8], [2007.66, 21.5], [2007.63, 20.1], [2007.51, 13.4], [2007.44, 12.4], [2007.61, 9.7],
  [2007.41, 7.6], [2007.57, 4.1], [2007.65, -1.5],
  [2007.7, 4.8], [2007.75, 0.6], [2007.8, -1.5], [2007.72, -3.5], [2007.85, -5.6], [2007.78, -7.7], [2007.82, -9.8],
  [2007.74, -12.6], [2007.86, -14.7], [2007.88, -19.4],
  [2008.05, 13.8], [2007.95, 10.3], [2008.1, 7.6], [2007.92, 5.5], [2008.0, 3.4], [2008.12, 1.3], [2007.97, -0.8],
  [2008.07, -2.8], [2007.93, -4.9], [2008.03, -7], [2007.98, -9.1], [2007.94, -11.2],
];

const upB_2008 = [
  [2008.4, 23.2], [2008.44, 19.4], [2008.38, 17.3], [2008.3, 15.2], [2008.2, 12.4], [2008.35, 10.3], [2008.25, 8.3],
  [2008.42, 6.2], [2008.16, 4.8], [2008.32, 2.7], [2008.22, 0.6], [2008.41, -1.5], [2008.28, -3.5],
  [2008.6, 7.2], [2008.65, 4.1], [2008.7, -1.5], [2008.58, -4.9], [2008.75, -7], [2008.82, -8.4], [2008.68, -9.8],
  [2008.85, -11.2], [2008.72, -12.6], [2008.8, -14], [2008.78, -15.3], [2008.86, -16.7], [2008.74, -18.1],
  [2008.84, -20.2], [2008.79, -22.6],
  [2009.0, -0.1], [2009.1, -2.8], [2008.92, -4.9], [2009.15, -6.3], [2009.05, -7.7], [2008.95, -9.1], [2009.18, -10.5],
  [2009.02, -11.9], [2009.12, -13.3], [2008.9, -14.7], [2009.08, -16], [2008.98, -18.1], [2009.06, -21.2],
  [2009.3, 11.7], [2009.45, 10.3], [2009.25, 7.6], [2009.38, 5.5], [2009.22, 3.4], [2009.48, 1.3], [2009.33, -0.8],
  [2009.42, -2.8], [2009.27, -4.9], [2009.4, -7], [2009.35, -9.1], [2009.46, -11.2], [2009.31, -13.3],
  [2009.55, 12.4], [2009.5, 9], [2009.62, 5.5], [2009.7, 2], [2009.58, -0.8], [2009.65, -2.8], [2009.52, -4.9],
  [2009.68, -7], [2009.6, -8.4], [2009.72, -9.8], [2009.56, -12.6], [2009.64, -15.3], [2009.7, -18.1], [2009.66, -20.9],
  [2009.75, 2.7], [2009.85, 0.6], [2009.95, -1.5], [2009.8, -3.5], [2010.0, -4.9], [2009.9, -6.3], [2009.78, -7.7],
  [2010.02, -9.1], [2009.88, -10.5], [2009.98, -12.6], [2009.82, -14.7], [2009.92, -17.4], [2010.04, -18.8],
  [2010.15, 13.1], [2010.22, 8.3], [2010.1, 6.2], [2010.3, 4.8], [2010.05, 2.7], [2010.18, 1.3], [2010.26, -0.1],
  [2010.12, -1.5], [2010.34, -2.8], [2010.08, -4.2], [2010.2, -5.6], [2010.28, -7], [2010.32, -8.4], [2010.16, 3.5],
  [2010.24, 0.5], [2010.14, -3], [2010.29, 2],
  [2010.4, -0.8], [2010.5, -2.8], [2010.45, -4.9], [2010.55, -7], [2010.62, -9.1], [2010.48, -11.2], [2010.58, -13.3],
  [2010.65, -15.3], [2010.52, -17.4], [2010.6, -20.2],
  [2010.75, -4.2], [2010.7, -12.6], [2010.8, -15.3], [2010.92, -17.4], [2010.85, -18.8], [2011.0, -20.2],
  [2010.88, -21.6], [2010.95, -23], [2010.83, -24.4], [2010.98, -25.8], [2010.9, -27.2], [2010.94, -28.5],
  [2010.97, -29.6], [2010.78, -32.4], [2010.86, -37.2],
];

// denser cores of the station B clouds
const upB_core = [
  [2000.57, -10], [2000.6, -13], [2000.63, -7], [2000.66, -11], [2000.69, -15], [2000.71, -9], [2000.74, -12],
  [2000.77, -6], [2000.79, -10], [2000.83, -13], [2000.86, -8], [2000.89, -11], [2000.91, -5], [2000.94, -10],
  [2000.97, -7], [2001.01, -9], [2001.04, -4], [2001.07, -11], [2001.09, -6], [2001.13, -2], [2001.17, -8],
  [2001.21, -5], [2001.23, 0], [2001.26, -3], [2001.29, 4], [2001.32, -6], [2001.34, 2], [2001.37, -1], [2001.41, -4],
  [2001.44, 3], [2001.47, -2], [2001.51, -6], [2001.54, 1], [2001.57, -3], [2001.59, 4], [2001.63, -1], [2001.67, 2],
  [2001.71, -5], [2001.74, 0], [2001.78, -3], [2001.81, 3], [2001.87, -1], [2001.91, -6], [2001.96, 2], [2002.01, -3],
  [2002.04, 5], [2002.09, 0], [2002.11, -4], [2002.15, 6], [2002.17, -2], [2002.21, 3], [2002.24, 9], [2002.26, 0],
  [2002.31, 6], [2002.34, -4], [2002.38, 2], [2002.41, 7], [2002.43, -3], [2002.46, 4], [2002.49, 0], [2002.51, -6],
  [2002.55, 3], [2002.57, -2], [2002.61, 5], [2002.64, -5], [2002.67, 1], [2002.69, -3], [2002.73, 4], [2002.76, -1],
  [2002.79, -6], [2002.83, 2], [2002.86, -4], [2002.89, 1], [2002.92, -6], [2002.96, -2], [2002.99, 3], [2003.02, -5],
  [2003.04, 0], [2003.09, -3], [2003.13, 8], [2003.16, 13], [2003.19, 6], [2003.23, 11], [2003.26, 9], [2003.29, 15],
  [2003.32, 10], [2003.34, 13], [2003.36, 7], [2003.39, 11], [2003.41, 14], [2003.43, 9], [2003.46, 12], [2003.49, 15],
  [2003.51, 10], [2003.54, 7], [2003.56, 3], [2003.59, 2], [2003.61, -3], [2003.63, 5], [2003.67, -1], [2003.69, -5],
  [2003.71, 1], [2003.73, -3], [2003.77, -6], [2003.81, 0], [2003.83, -4], [2003.87, 2], [2003.91, -2], [2003.94, 4],
  [2003.97, 1], [2004.01, 6], [2004.04, 2], [2004.07, 7], [2004.11, 3], [2004.14, 9], [2004.17, 5], [2004.21, 1],
  [2004.24, 8], [2004.26, 3], [2004.29, 6], [2004.33, 10], [2004.36, 5], [2004.39, 8], [2004.41, 3], [2004.44, 11],
  [2004.47, 6], [2004.49, 9], [2004.52, 2], [2004.54, 7], [2004.56, 4], [2004.59, 10], [2004.61, 6], [2004.64, 3],
  [2004.67, 8], [2004.69, 5], [2004.71, 9], [2004.74, 2], [2004.77, 7], [2004.79, 4], [2004.83, 6], [2004.86, 1],
  [2004.89, 8], [2004.92, 3], [2004.96, 6], [2004.99, 1], [2005.03, 1], [2005.06, 5], [2005.09, -1], [2005.13, 4],
  [2005.16, 7], [2005.19, 2], [2005.23, 6], [2005.26, 3], [2005.29, 9], [2005.32, 12], [2005.35, 10], [2005.37, 13],
  [2005.39, 11], [2005.42, 14], [2005.44, 12], [2005.46, 10], [2005.49, 13], [2005.51, 11], [2005.53, 9], [2005.57, 5],
  [2005.61, -2], [2005.63, 3], [2005.67, 0], [2005.69, -4], [2005.73, 5], [2005.76, 1], [2005.79, -3], [2005.81, 4],
  [2005.84, 2], [2005.87, 6], [2005.91, 3], [2005.94, 0], [2005.97, 5], [2006.01, 2], [2006.04, 6], [2006.08, 1],
  [2006.11, 5], [2006.14, 3], [2006.18, 7], [2006.21, 5], [2006.24, 10], [2006.27, 7], [2006.29, 12], [2006.31, 6],
  [2006.33, 9], [2006.36, 4], [2006.38, 11], [2006.4, 8], [2006.42, 3], [2006.44, 6], [2006.49, -5], [2006.53, -8],
  [2006.56, -3], [2006.59, -9], [2006.61, -5], [2006.63, -2], [2006.66, -7], [2006.69, -4], [2006.73, 4], [2006.77, 8],
  [2006.79, 2], [2006.83, 6], [2006.87, 1], [2006.89, 5], [2006.94, 3], [2006.97, 7], [2007.01, 2], [2007.03, 6],
  [2007.07, 9], [2007.09, 3], [2007.13, 7], [2007.16, 1], [2007.19, 5], [2007.23, 8], [2007.26, 4], [2007.29, 9],
  [2007.32, 6], [2007.34, 11], [2007.37, 7], [2007.39, 4], [2007.43, 9], [2007.47, 11], [2007.49, 6], [2007.53, 8],
  [2007.54, 12], [2007.59, 7], [2007.61, 10], [2007.64, 5], [2007.68, -3], [2007.71, -7], [2007.73, -1], [2007.76, -5],
  [2007.79, -9], [2007.81, -4], [2007.84, -7], [2007.87, -2], [2007.91, 2], [2007.94, 6], [2007.96, 1], [2007.99, 5],
  [2008.02, 8], [2008.04, 3], [2008.06, 6], [2008.09, 10], [2008.11, 4], [2008.13, 7], [2008.15, 2], [2008.18, 9],
  [2008.21, 5], [2008.23, 7], [2008.26, 3], [2008.29, 6], [2008.31, 9], [2008.34, 4], [2008.36, 7], [2008.39, 5],
  [2008.43, 3], [2008.59, -6], [2008.61, -10], [2008.63, -13], [2008.66, -8], [2008.69, -14], [2008.71, -11],
  [2008.73, -16], [2008.76, -12], [2008.77, -9], [2008.81, -15], [2008.83, -12], [2008.87, -17], [2008.89, -13],
  [2008.91, -10], [2008.94, -15], [2008.96, -12], [2008.99, -8], [2009.03, -14], [2009.07, -10], [2009.11, -6],
  [2009.13, -2], [2009.16, -8], [2009.19, -4], [2009.21, 1], [2009.24, -5], [2009.26, -1], [2009.29, -7], [2009.32, -3],
  [2009.34, 2], [2009.37, -4], [2009.39, 0], [2009.41, -6], [2009.44, -2], [2009.47, -5], [2009.49, 3], [2009.51, -1],
  [2009.54, -4], [2009.57, -7], [2009.61, -11], [2009.63, -6], [2009.67, -9], [2009.69, -13], [2009.71, -7],
  [2009.74, -10], [2009.76, -5], [2009.79, -12], [2009.81, -8], [2009.84, -11], [2009.86, -6], [2009.89, -9],
  [2009.91, -13], [2009.93, -7], [2009.96, -10], [2009.99, -6], [2010.01, -3], [2010.03, 1], [2010.06, -2], [2010.09, 3],
  [2010.11, 0], [2010.13, 5], [2010.17, -1], [2010.19, 4], [2010.21, 7], [2010.23, -2], [2010.25, 3], [2010.27, 6],
  [2010.31, 1], [2010.33, -4], [2010.35, 2], [2010.39, -6], [2010.42, -9], [2010.44, -4], [2010.47, -8], [2010.49, -13],
  [2010.51, -6], [2010.54, -10], [2010.57, -14], [2010.59, -8], [2010.63, -12], [2010.66, -17], [2010.72, -19],
  [2010.76, -22], [2010.79, -18], [2010.82, -25], [2010.84, -21], [2010.87, -24], [2010.89, -19], [2010.91, -26],
  [2010.93, -22], [2010.96, -27], [2010.99, -23], [2011.01, -19],
];

const upB_core2 = [
  [2000.56, -9], [2000.59, -6], [2000.62, -12], [2000.65, -9], [2000.68, -4], [2000.7, -11], [2000.73, -14],
  [2000.76, -9], [2000.78, -12], [2000.81, -7], [2000.84, -11], [2000.88, -5], [2000.9, -9], [2000.93, -13],
  [2000.96, -8], [2000.99, -11], [2001.02, -6], [2001.05, -9], [2001.08, -3], [2001.11, -7], [2001.14, -10],
  [2001.19, -4], [2001.22, -2], [2001.25, 2], [2001.28, -4], [2001.31, 0], [2001.35, -3], [2001.39, 1], [2001.42, -7],
  [2001.46, 0], [2001.49, -4], [2001.52, 2], [2001.55, -1], [2001.6, -3], [2001.64, 1], [2001.68, -2], [2001.72, -7],
  [2001.76, 4], [2001.79, -1], [2001.83, 1], [2001.86, -5], [2001.9, 0], [2001.93, 3], [2001.98, -2], [2002.03, 2],
  [2002.06, -1], [2002.12, 3], [2002.16, 2], [2002.19, 5], [2002.23, -1], [2002.27, 4], [2002.29, 8], [2002.33, 1],
  [2002.37, 5], [2002.39, -2], [2002.42, 3], [2002.45, 6], [2002.48, 1], [2002.53, -3], [2002.56, 2], [2002.59, -5],
  [2002.62, 0], [2002.66, 4], [2002.68, -1], [2002.71, 2], [2002.74, -5], [2002.77, 1], [2002.81, -3], [2002.84, 3],
  [2002.88, -2], [2002.91, -5], [2002.94, 0], [2002.97, -4], [2003.01, 2], [2003.06, -2], [2003.14, 11], [2003.17, 9],
  [2003.21, 14], [2003.24, 7], [2003.27, 12], [2003.3, 9], [2003.33, 14], [2003.35, 11], [2003.38, 8], [2003.4, 13],
  [2003.42, 10], [2003.45, 14], [2003.47, 8], [2003.5, 12], [2003.52, 9], [2003.55, 5], [2003.6, -1], [2003.62, 4],
  [2003.66, -2], [2003.68, 1], [2003.72, -4], [2003.75, 3], [2003.79, -2], [2003.82, -5], [2003.85, 0], [2003.89, -3],
  [2003.93, 1], [2003.96, -2], [2003.99, 5], [2004.03, 4], [2004.06, 9], [2004.09, 5], [2004.13, 1], [2004.16, 6],
  [2004.19, 10], [2004.23, 4], [2004.27, 8], [2004.31, 5], [2004.34, 8], [2004.37, 12], [2004.4, 6], [2004.43, 9],
  [2004.46, 4], [2004.5, 8], [2004.53, 11], [2004.57, 6], [2004.6, 3], [2004.63, 8], [2004.66, 5], [2004.7, 7],
  [2004.73, 10], [2004.76, 5], [2004.8, 8], [2004.84, 3], [2004.87, 6], [2004.91, 1], [2004.94, 5], [2004.97, 3],
  [2005.01, 3], [2005.04, -2], [2005.07, 2], [2005.11, 6], [2005.14, 1], [2005.18, 4], [2005.21, 8], [2005.24, 4],
  [2005.27, 7], [2005.31, 10], [2005.33, 14], [2005.36, 11], [2005.38, 9], [2005.41, 12], [2005.43, 15], [2005.45, 11],
  [2005.48, 12], [2005.5, 9], [2005.52, 14], [2005.55, 10], [2005.62, 1], [2005.64, -3], [2005.66, 5], [2005.7, 2],
  [2005.72, -2], [2005.75, 3], [2005.77, 6], [2005.8, 1], [2005.83, -1], [2005.86, 4], [2005.89, 1], [2005.92, 5],
  [2005.96, 2], [2005.99, 7], [2006.03, 4], [2006.06, 0], [2006.09, 4], [2006.13, 6], [2006.16, 2], [2006.2, 8],
  [2006.23, 4], [2006.25, 9], [2006.28, 5], [2006.3, 10], [2006.32, 14], [2006.35, 8], [2006.37, 12], [2006.39, 5],
  [2006.41, 9], [2006.43, 7], [2006.48, -3], [2006.51, -6], [2006.54, -2], [2006.57, -6], [2006.6, -1], [2006.62, -4],
  [2006.65, -8], [2006.68, -2], [2006.71, 6], [2006.74, 1], [2006.76, 5], [2006.8, 3], [2006.84, 9], [2006.87, 4],
  [2006.91, 6], [2006.95, 2], [2006.99, 5], [2007.02, 9], [2007.06, 4], [2007.08, 7], [2007.11, 11], [2007.14, 4],
  [2007.18, 8], [2007.21, 3], [2007.24, 6], [2007.27, 10], [2007.31, 5], [2007.33, 8], [2007.36, 4], [2007.38, 10],
  [2007.41, 6], [2007.44, 9], [2007.46, 5], [2007.5, 9], [2007.52, 6], [2007.56, 10], [2007.58, 4], [2007.62, 8],
  [2007.69, -1], [2007.72, -5], [2007.75, -2], [2007.77, -8], [2007.8, -3], [2007.83, -9], [2007.86, -4], [2007.89, -6],
  [2007.92, 4], [2007.95, 1], [2007.97, 8], [2008.01, 3], [2008.03, 6], [2008.05, 1], [2008.08, 5], [2008.1, 8],
  [2008.12, 3], [2008.14, 11], [2008.17, 6], [2008.19, 3], [2008.22, 8], [2008.24, 5], [2008.27, 9], [2008.3, 4],
  [2008.33, 7], [2008.35, 2], [2008.37, 6], [2008.41, 4], [2008.44, 7], [2008.6, -8], [2008.62, -12], [2008.64, -6],
  [2008.67, -11], [2008.7, -16], [2008.72, -9], [2008.75, -13], [2008.78, -11], [2008.8, -17], [2008.82, -10],
  [2008.85, -14], [2008.88, -11], [2008.9, -16], [2008.93, -12], [2008.95, -7], [2008.97, -14], [2009.01, -11],
  [2009.04, -8], [2009.09, -12], [2009.12, -4], [2009.14, -9], [2009.17, -3], [2009.2, -7], [2009.22, -2], [2009.25, -8],
  [2009.28, -3], [2009.3, 1], [2009.33, -5], [2009.36, -1], [2009.38, -7], [2009.42, -3], [2009.45, 1], [2009.48, -7],
  [2009.5, -3], [2009.53, -9], [2009.56, -6], [2009.6, -8], [2009.62, -13], [2009.65, -10], [2009.68, -5], [2009.7, -11],
  [2009.73, -8], [2009.75, -13], [2009.78, -9], [2009.8, -6], [2009.83, -14], [2009.85, -9], [2009.87, -12], [2009.9, -7],
  [2009.92, -10], [2009.95, -14], [2009.97, -8], [2010.02, 0], [2010.04, -4], [2010.07, 2], [2010.1, -3], [2010.12, 4],
  [2010.14, 1], [2010.16, 6], [2010.18, -2], [2010.2, 2], [2010.22, 5], [2010.24, -3], [2010.26, 1], [2010.28, 4],
  [2010.3, -2], [2010.32, 2], [2010.34, -1], [2010.38, -4], [2010.41, -7], [2010.43, -11], [2010.46, -6], [2010.48, -10],
  [2010.5, -14], [2010.53, -9], [2010.56, -12], [2010.58, -6], [2010.61, -15], [2010.64, -10], [2010.67, -14],
  [2010.71, -16], [2010.74, -20], [2010.77, -24], [2010.8, -20], [2010.81, -17], [2010.83, -22], [2010.85, -26],
  [2010.86, -20], [2010.88, -23], [2010.9, -18], [2010.92, -24], [2010.94, -20], [2010.95, -26], [2010.97, -21],
  [2011.0, -24],
];

// trend segments, [[startYear, mm], [endYear, mm]]
const trendRedA = [
  [[1997.26, 4.4], [1998.28, 4.88]], [[1998.32, 4.9], [2000.33, 5.85]], [[2000.37, 5.87], [2001.34, 6.33]],
  [[2001.52, 6.41], [2008.06, 9.5]], [[2008.49, 9.8], [2011.04, 11.0]],
];
const trendGreenA = [
  [[1997.26, -5.9], [1998.28, -6.27]], [[1998.32, -6.28], [2000.33, -7.01]], [[2000.37, -7.02], [2001.34, -7.37]],
  [[2001.52, -7.44], [2008.06, -9.8]], [[2008.49, -10.0], [2011.04, -11.2]],
];
const trendRedB = [
  [[2000.56, -10.0], [2003.08, -9.58]], [[2003.12, -9.57], [2005.03, -9.26]], [[2005.07, -9.25], [2008.45, -8.7]],
  [[2008.59, -8.7], [2011.02, -8.2]],
];
const trendGreenB = [
  [[2000.56, -9.4], [2003.08, -9.75]], [[2003.12, -9.76], [2005.03, -10.02]], [[2005.07, -10.03], [2008.45, -10.5]],
  [[2008.59, -10.5], [2011.02, -10.8]],
];
const breakYearB = 2008.57;

const yearTicksA = [1996, 1998, 2000, 2002, 2004, 2006, 2008, 2010, 2012];
const yearTicksB = [2000, 2002, 2004, 2006, 2008, 2010, 2012];
const upTicksA = [-50, -40, -30, -20, -10, 0, 10, 20, 30, 40];
const upTicksB = [-40, -30, -20, -10, 0, 10, 20, 30, 40];

const AXIS = '#7d7d7d';
const TXT = '#1c1c1c';
const SANS = "'Liberation Sans', Arial, sans-serif";
const SERIF = "'Liberation Serif', 'Times New Roman', serif";

const BarPanel = ({ values, domain, ticks, box, zeroLine }: any) => {
  const data = sites.map((site, i) => ({ site, value: values[i] }));
  const padL = 70, padR = 10, padT = 10, padB = 45;
  return (
    <div style={{ position: 'absolute', left: box.x - padL, top: box.y - padT }}>
      <ComposedChart
        width={box.w + padL + padR}
        height={box.h + padT + padB}
        data={data}
        margin={{ top: padT - 1, right: padR - 1, bottom: 0, left: 0 }}
        barCategoryGap="20%"
      >
        <XAxis dataKey="site" interval={0} height={padB} tickSize={-5} tickMargin={20} stroke={AXIS}
          tick={{ fill: TXT, fontSize: 16.5, fontFamily: SANS }} />
        <XAxis xAxisId="top" dataKey="site" orientation="top" height={1} tickSize={-5} tick={false} stroke={AXIS} />
        <YAxis type="number" domain={domain} ticks={ticks} interval={0} width={padL} tickSize={-5} tickMargin={10}
          allowDataOverflow stroke={AXIS} tick={{ fill: TXT, fontSize: 16.5, fontFamily: SANS }} />
        <YAxis yAxisId="right" orientation="right" type="number" domain={domain} ticks={ticks} interval={0} width={1}
          tickSize={-5} tick={false} allowDataOverflow stroke={AXIS} />
        {zeroLine && <ReferenceLine y={0} stroke={AXIS} strokeWidth={1} />}
        <Bar dataKey="value" fill="#000086" isAnimationActive={false} />
        <Line xAxisId="top" yAxisId="right" dataKey="value" stroke="none" dot={false} activeDot={false}
          isAnimationActive={false} />
      </ComposedChart>
    </div>
  );
};

const toPts = (rows: number[][]) => rows.map(([x, y]) => ({ x, y }));
const Dot = (p: any) => <circle cx={p.cx} cy={p.cy} r={1.6} fill="#0b0bf0" />;
const NoDot = () => <g />;

const ScatterPanel = ({ rows, xDomain, xTicks, yDomain, yTicks, box, red, green, breakYear }: any) => {
  const padL = 60, padR = 30, padT = 10, padB = 50;
  const pts = toPts(rows);
  return (
    <div style={{ position: 'absolute', left: box.x - padL, top: box.y - padT }}>
      <ScatterChart width={box.w + padL + padR} height={box.h + padT + padB}
        margin={{ top: padT - 1, right: padR - 1, bottom: 0, left: 0 }}>
        <XAxis type="number" dataKey="x" domain={xDomain} ticks={xTicks} interval={0} allowDataOverflow height={padB}
          tickSize={-5} tickMargin={15} stroke={AXIS} tick={{ fill: TXT, fontSize: 14, fontFamily: SANS }} />
        <XAxis xAxisId="top" orientation="top" type="number" dataKey="x" domain={xDomain} ticks={xTicks} interval={0}
          allowDataOverflow height={1} tickSize={-5} tick={false} stroke={AXIS} />
        <YAxis type="number" dataKey="y" domain={yDomain} ticks={yTicks} interval={0} allowDataOverflow width={padL}
          tickSize={-5} tickMargin={11} stroke={AXIS} tick={{ fill: TXT, fontSize: 14, fontFamily: SANS }} />
        <YAxis yAxisId="right" orientation="right" type="number" dataKey="y" domain={yDomain} ticks={yTicks}
          interval={0} allowDataOverflow width={1} tickSize={-5} tick={false} stroke={AXIS} />
        <Scatter xAxisId="top" yAxisId="right" data={pts.slice(0, 2)} shape={NoDot} isAnimationActive={false} />
        <Scatter data={pts} shape={Dot} isAnimationActive={false} />
        {breakYear && <ReferenceLine x={breakYear} stroke="#8a8a8a" strokeWidth={1.5} />}
        {green.map((s: number[][], i: number) => (
          <ReferenceLine key={'g' + i} segment={[{ x: s[0][0], y: s[0][1] }, { x: s[1][0], y: s[1][1] }]}
            stroke="#1fe01f" strokeWidth={3.5} />
        ))}
        {red.map((s: number[][], i: number) => (
          <ReferenceLine key={'r' + i} segment={[{ x: s[0][0], y: s[0][1] }, { x: s[1][0], y: s[1][1] }]}
            stroke="#e0161c" strokeWidth={3.5} />
        ))}
      </ScatterChart>
    </div>
  );
};

type Part = { t: string; sub?: boolean; up?: boolean };

const Formula = ({ cx, y, parts, size, subSize, drop, len }: any) => {
  let prevSub = false;
  return (
    <text x={cx} y={y} textAnchor="middle" fontFamily={SERIF} fontSize={size} textLength={len}
      lengthAdjust="spacingAndGlyphs" fill="#000" style={{ whiteSpace: 'pre' }}>
      {parts.map((p: Part, i: number) => {
        const dy = p.sub && !prevSub ? drop : !p.sub && prevSub ? -drop : 0;
        prevSub = !!p.sub;
        return (
          <tspan key={i} dy={dy} fontSize={p.sub ? subSize : size} fontStyle={p.up ? 'normal' : 'italic'}>
            {p.t}
          </tspan>
        );
      })}
    </text>
  );
};

const Percent = ({ dotX, dotY, x, y, size, len }: any) => (
  <g fontFamily={SERIF} fill="#000">
    <text x={dotX} y={dotY} fontSize={size} textAnchor="middle">·</text>
    <text x={x} y={y} fontSize={size} textLength={len} lengthAdjust="spacingAndGlyphs">100%</text>
  </g>
);

const Tag = ({ x, y, t }: any) => (
  <text x={x} y={y} textAnchor="middle" dominantBaseline="central" fontFamily="Lato, 'Open Sans', sans-serif"
    fontSize={30} fill="#000">{t}</text>
);

const App = () => {
  const rowsA = [
    ...upA_1997, ...upA_1999, ...upA_2000, ...upA_2001, ...upA_2003, ...upA_2005, ...upA_2007, ...upA_2008,
    ...upA_core, ...upA_core2,
  ];
  const rowsB = [...upB_2000, ...upB_2002, ...upB_2004, ...upB_2006, ...upB_2008, ...upB_core, ...upB_core2];
  const minus = { t: ' − ', up: true };
  return (
    <div style={{ position: 'absolute', left: 0, top: 0, width: 1272, height: 1996, background: '#fff', overflow: 'hidden' }}>
      <BarPanel values={alphaDiff} domain={[-0.1, 0.4]} ticks={ticksAlpha} box={{ x: 148, y: 205, w: 429, h: 373 }} zeroLine />
      <BarPanel values={sigmaPlDiff} domain={[0, 50]} ticks={ticksSigmaPl} box={{ x: 670, y: 200, w: 429, h: 373 }} />
      <BarPanel values={velDiff} domain={[0, 250]} ticks={ticksVel} box={{ x: 148, y: 926, w: 429, h: 374 }} />
      <BarPanel values={sigmaVelDiff} domain={[-100, 200]} ticks={ticksSigmaVel} box={{ x: 676, y: 928, w: 415, h: 372 }} zeroLine />

      <ScatterPanel rows={rowsA} xDomain={[1996, 2012]} xTicks={yearTicksA} yDomain={[-50, 40]} yTicks={upTicksA}
        box={{ x: 83, y: 1459, w: 513, h: 384 }} red={trendRedA} green={trendGreenA} />
      <ScatterPanel rows={rowsB} xDomain={[2000, 2012]} xTicks={yearTicksB} yDomain={[-40, 40]} yTicks={upTicksB}
        box={{ x: 716, y: 1459, w: 514, h: 384 }} red={trendRedB} green={trendGreenB} breakYear={breakYearB} />

      <svg width={1272} height={1996} style={{ position: 'absolute', left: 0, top: 0, pointerEvents: 'none' }}>
        {/* top-left formula */}
        <Formula cx={343} y={128} size={54} subSize={40} drop={14} len={341}
          parts={[{ t: 'α' }, { t: 'MCMC', sub: true }, minus, { t: 'α' }, { t: 'CATS', sub: true }]} />
        {/* top-right formula */}
        <Formula cx={832} y={63} size={46} subSize={32} drop={10} len={430}
          parts={[{ t: 'σ' }, { t: 'pl,MCMC', sub: true }, minus, { t: 'σ' }, { t: 'pl,CATS', sub: true }]} />
        <line x1={617} x2={1049} y1={92} y2={92} stroke="#000" strokeWidth={3} />
        <Formula cx={833} y={147} size={46} subSize={32} drop={7} len={175}
          parts={[{ t: 'σ' }, { t: 'pl,CATS', sub: true }]} />
        <Percent dotX={1066} dotY={110} x={1092} y={110} size={48} len={130} />

        {/* middle-left formula */}
        <Formula cx={282} y={806} size={52} subSize={34} drop={11} len={373}
          parts={[{ t: '|', up: true }, { t: 'v' }, { t: 'MCMC', sub: true }, minus, { t: 'v' }, { t: 'CATS', sub: true }, { t: '|', up: true }]} />
        <line x1={96} x2={469} y1={830} y2={830} stroke="#000" strokeWidth={3} />
        <Formula cx={283} y={870} size={52} subSize={34} drop={16} len={159}
          parts={[{ t: '|', up: true }, { t: 'v' }, { t: 'CATS', sub: true }, { t: '|', up: true }]} />
        <Percent dotX={489} dotY={840} x={509} y={847} size={44} len={135} />

        {/* middle-right formula */}
        <Formula cx={851} y={801} size={48} subSize={32} drop={7} len={399}
          parts={[{ t: 'σ' }, { t: 'v,MCMC', sub: true }, minus, { t: 'σ' }, { t: 'v,CATS', sub: true }]} />
        <line x1={652} x2={1051} y1={815} y2={815} stroke="#000" strokeWidth={3} />
        <Formula cx={850} y={861} size={48} subSize={32} drop={16} len={151}
          parts={[{ t: 'σ' }, { t: 'v,CATS', sub: true }]} />
        <Percent dotX={1068} dotY={826} x={1092} y={832} size={41} len={130} />

        {/* panel tags */}
        <Tag x={524} y={266} t="(a)" />
        <Tag x={1053} y={262} t="(b)" />
        <Tag x={540} y={993} t="(c)" />
        <Tag x={1042} y={992} t="(d)" />
        <Tag x={525} y={1515} t="(a)" />
        <Tag x={1152} y={1515} t="(b)" />

        {/* scatter axis titles */}
        <g fontFamily={SANS} fontSize={14.5} fill={TXT}>
          <text x={339.5} y={1884} textAnchor="middle">Year</text>
          <text x={973} y={1884} textAnchor="middle">Year</text>
          <text transform="translate(46,1652) rotate(-90)" textAnchor="middle">Up (mm)</text>
          <text transform="translate(680,1652) rotate(-90)" textAnchor="middle">Up (mm)</text>
        </g>
      </svg>
    </div>
  );
};

export default App;
